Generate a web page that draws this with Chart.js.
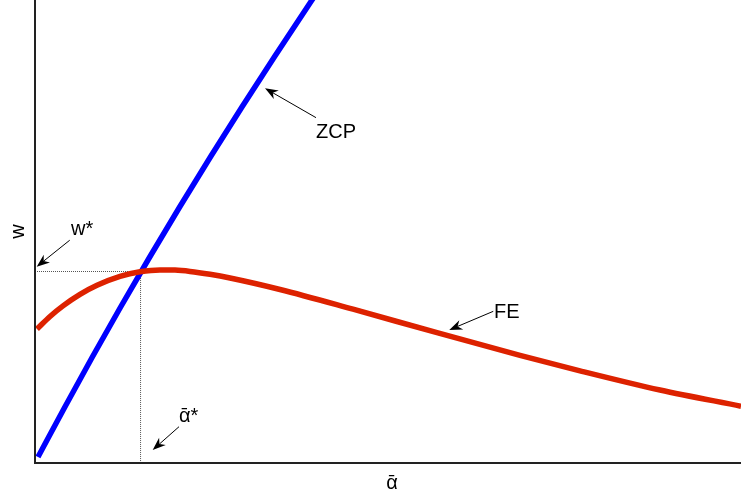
<!DOCTYPE html>
<html>
<head>
<meta charset="utf-8">
<script src="https://cdn.jsdelivr.net/npm/chart.js@4.4.1/dist/chart.umd.min.js"></script>
<style>
html,body{margin:0;padding:0;background:#fff;}
#wrap{width:741px;height:497px;position:relative;}
</style>
</head>
<body>
<div id="wrap"><canvas id="c"></canvas></div>
<script>
// ZCP curve (x = alpha-bar, y = w), normalised units
const zcpX = [0.00425, 0.04231, 0.08122, 0.12129, 0.16252, 0.20490, 0.24844, 0.29313, 0.33898, 0.39235, 0.42408];
const zcpY = [0.01296, 0.12095, 0.22894, 0.33693, 0.44492, 0.55292, 0.66091, 0.76890, 0.87689, 1.00000, 1.07127];
// FE curve
const feX = [0.00283, 0.02125, 0.03966, 0.06374, 0.08782, 0.12040, 0.14873, 0.17705, 0.19830, 0.21955, 0.24788, 0.27620, 0.34703, 0.45042, 0.56941, 0.68697, 0.77195, 0.88527, 1.00000];
const feY = [0.28942, 0.31641, 0.33931, 0.36415, 0.38380, 0.40302, 0.41296, 0.41706, 0.41663, 0.41382, 0.40756, 0.39957, 0.37473, 0.33218, 0.28143, 0.23261, 0.19914, 0.15767, 0.12268];
// equilibrium
const alphaStar = 0.1495;
const wStar = 0.4136;

const xLabel = "\u1FB1";
const yLabel = "w";
const labels = [
  {text: "ZCP", x: 0.3980, y: 0.7009, tx: 0.3980, ty: 0.7459, hx: 0.3258, hy: 0.8093},
  {text: "FE", x: 0.6501, y: 0.3121, tx: 0.6491, ty: 0.3276, hx: 0.5868, hy: 0.2874},
  {text: "w*", x: 0.0510, y: 0.4924, tx: 0.0492, ty: 0.4812, hx: 0.0024, hy: 0.4240},
  {text: "\u1FB1*", x: 0.2040, y: 0.0892, tx: 0.2040, ty: 0.0784, hx: 0.1667, hy: 0.0281}
];

const FONT = '"Liberation Sans", Arial, "DejaVu Sans", sans-serif';

const zip = (xs, ys) => xs.map((x, i) => ({x: x, y: ys[i]}));

const annot = {
  id: 'annot',
  afterDatasetsDraw(chart) {
    const ctx = chart.ctx, a = chart.chartArea;
    const sx = chart.scales.x, sy = chart.scales.y;
    ctx.save();
    // axis lines
    ctx.strokeStyle = '#222';
    ctx.lineWidth = 2;
    ctx.beginPath();
    ctx.moveTo(a.left, a.top);
    ctx.lineTo(a.left, a.bottom);
    ctx.lineTo(a.right, a.bottom);
    ctx.stroke();
    // axis titles
    ctx.fillStyle = '#000';
    ctx.font = '20px ' + FONT;
    ctx.textAlign = 'center';
    ctx.textBaseline = 'alphabetic';
    ctx.fillText(xLabel, (a.left + a.right) / 2 + 4, a.bottom + 26);
    ctx.save();
    ctx.translate(24, a.top + (a.bottom - a.top) / 2);
    ctx.rotate(-Math.PI / 2);
    ctx.fillText(yLabel, 0, 0);
    ctx.restore();
    // labels and arrows
    ctx.textAlign = 'left';
    labels.forEach(l => {
      ctx.fillText(l.text, sx.getPixelForValue(l.x), sy.getPixelForValue(l.y));
      const tx = sx.getPixelForValue(l.tx), ty = sy.getPixelForValue(l.ty);
      const hx = sx.getPixelForValue(l.hx), hy = sy.getPixelForValue(l.hy);
      const ang = Math.atan2(hy - ty, hx - tx);
      const L = 13, W = 5, N = 9;
      const bx = hx - L * Math.cos(ang), by = hy - L * Math.sin(ang);
      const nx = hx - N * Math.cos(ang), ny = hy - N * Math.sin(ang);
      ctx.strokeStyle = '#000';
      ctx.lineWidth = 1;
      ctx.beginPath();
      ctx.moveTo(tx, ty);
      ctx.lineTo(nx, ny);
      ctx.stroke();
      ctx.beginPath();
      ctx.moveTo(hx, hy);
      ctx.lineTo(bx - W * Math.sin(ang), by + W * Math.cos(ang));
      ctx.lineTo(nx, ny);
      ctx.lineTo(bx + W * Math.sin(ang), by - W * Math.cos(ang));
      ctx.closePath();
      ctx.fillStyle = '#000';
      ctx.fill();
    });
    ctx.restore();
  }
};

new Chart(document.getElementById('c'), {
  type: 'scatter',
  data: {
    datasets: [
      {label: 'FE', data: zip(feX, feY), showLine: true, borderColor: '#dd2200', borderWidth: 5.5,
       pointRadius: 0, cubicInterpolationMode: 'monotone', fill: false, order: 1},
      {label: 'ZCP', data: zip(zcpX, zcpY), showLine: true, borderColor: '#0000ff', borderWidth: 5.5,
       pointRadius: 0, cubicInterpolationMode: 'monotone', fill: false, order: 2},
      {label: 'eq', data: [{x: 0, y: wStar}, {x: alphaStar, y: wStar}, {x: alphaStar, y: 0}], showLine: true,
       borderColor: '#555', borderWidth: 1, borderDash: [1, 1], pointRadius: 0, tension: 0, order: 3}
    ]
  },
  options: {
    responsive: true,
    maintainAspectRatio: false,
    animation: false,
    devicePixelRatio: 1,
    layout: {padding: {left: 35, right: 0, top: 0, bottom: 34}},
    plugins: {legend: {display: false}, tooltip: {enabled: false}},
    scales: {
      x: {type: 'linear', min: 0, max: 1, display: false},
      y: {type: 'linear', min: 0, max: 1, display: false}
    },
    elements: {line: {borderCapStyle: 'butt'}}
  },
  plugins: [annot]
});
</script>
</body>
</html>
